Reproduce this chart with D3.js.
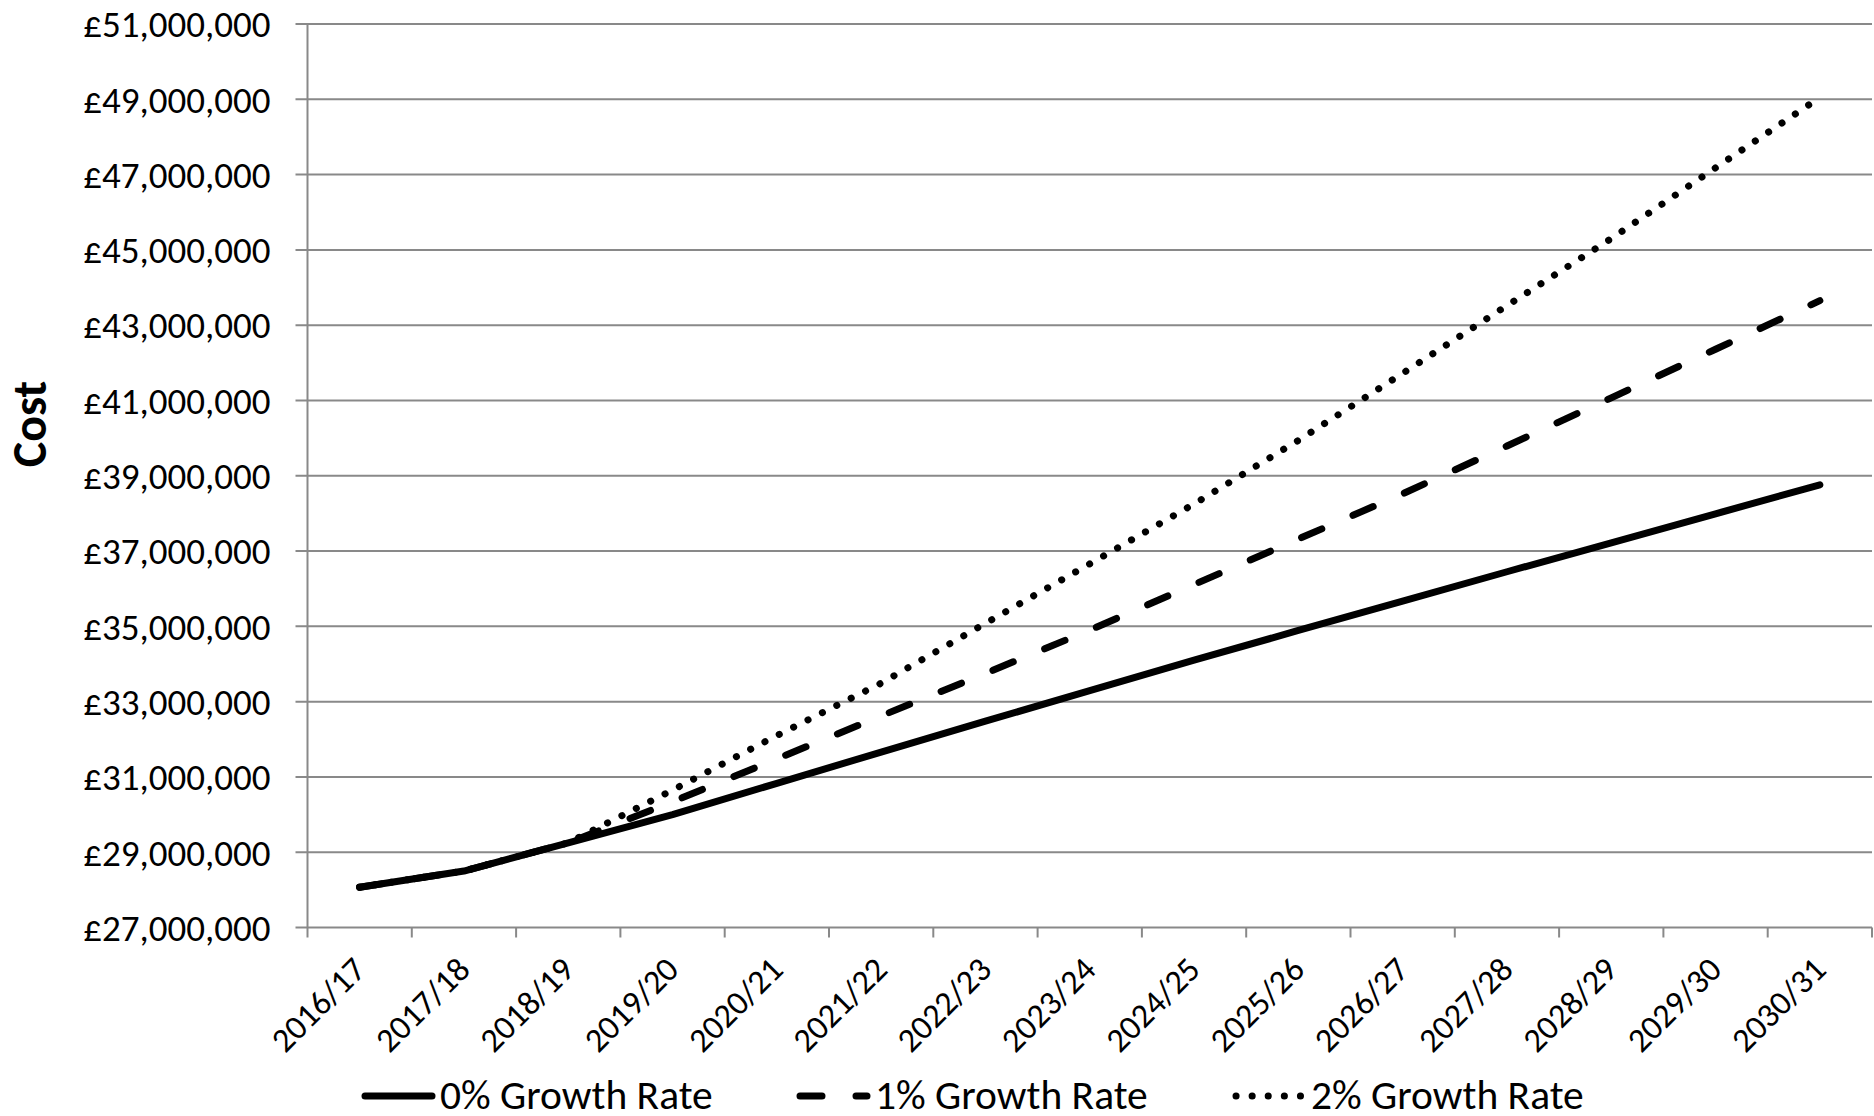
<!DOCTYPE html>
<html>
<head>
<meta charset="utf-8">
<script src="https://cdnjs.cloudflare.com/ajax/libs/d3/7.8.5/d3.min.js"></script>
<style>
  html, body { margin: 0; padding: 0; background: #fff; }
  svg { display: block; }
  text { font-family: Carlito, Calibri, Lato, sans-serif; fill: #000; }
</style>
</head>
<body>
<svg id="chart" width="1874" height="1116"></svg>
<script>
var years = ['2016/17', '2017/18', '2018/19', '2019/20', '2020/21', '2021/22', '2022/23', '2023/24',
             '2024/25', '2025/26', '2026/27', '2027/28', '2028/29', '2029/30', '2030/31'];

// cost in pounds
var growth0 = [28070000, 28500000, 29250000, 30000000, 30830000, 31660000, 32480000, 33290000,
               34100000, 34890000, 35670000, 36450000, 37220000, 37990000, 38760000];
var growth1 = [28070000, 28500000, 29250000, 30340000, 31480000, 32620000, 33750000, 34900000,
               36110000, 37320000, 38520000, 39790000, 41070000, 42360000, 43650000];
var growth2 = [28070000, 28500000, 29250000, 30650000, 32100000, 33490000, 35080000, 36660000,
               38250000, 39940000, 41720000, 43520000, 45300000, 47180000, 49050000];

var seriesNames = ['0% Growth Rate', '1% Growth Rate', '2% Growth Rate'];
var yTicks = d3.range(27000000, 51000001, 2000000);

var plotLeft = 307.5, plotRight = 1872, plotTop = 24, plotBottom = 927.5;
var gridColor = '#898989';

var svg = d3.select('#chart');

var x = d3.scaleBand().domain(years).range([plotLeft, plotRight]);
var y = d3.scaleLinear().domain([27000000, 51000000]).range([plotBottom, plotTop]);

var fmt = function(v) { return '\u00a3' + d3.format(',')(v); };

// gridlines
svg.append('g').selectAll('line')
    .data(yTicks)
    .enter().append('line')
    .attr('x1', plotLeft - 12)
    .attr('x2', plotRight)
    .attr('y1', function(d) { return y(d); })
    .attr('y2', function(d) { return y(d); })
    .attr('stroke', gridColor)
    .attr('stroke-width', 2);

// y axis line
svg.append('line')
    .attr('x1', plotLeft).attr('x2', plotLeft)
    .attr('y1', plotTop).attr('y2', plotBottom)
    .attr('stroke', gridColor).attr('stroke-width', 2);

// y tick labels
svg.append('g').selectAll('text')
    .data(yTicks)
    .enter().append('text')
    .attr('x', plotLeft - 37)
    .attr('y', function(d) { return y(d); })
    .attr('dy', '0.36em')
    .attr('text-anchor', 'end')
    .style('font-size', '37px')
    .text(fmt);

// x ticks on band boundaries
var bounds = years.map(function(d) { return x(d); }).concat([plotRight]);
svg.append('g').selectAll('line')
    .data(bounds)
    .enter().append('line')
    .attr('x1', function(d) { return d; })
    .attr('x2', function(d) { return d; })
    .attr('y1', plotBottom)
    .attr('y2', plotBottom + 10)
    .attr('stroke', gridColor)
    .attr('stroke-width', 2);

// x labels
svg.append('g').selectAll('text')
    .data(years)
    .enter().append('text')
    .attr('transform', function(d) {
        var cx = x(d) + x.bandwidth() / 2;
        return 'translate(' + (cx + 8) + ',' + (plotBottom + 44) + ') rotate(-45)';
    })
    .attr('text-anchor', 'end')
    .style('font-size', '34px')
    .text(function(d) { return d; });

// y title
svg.append('text')
    .attr('transform', 'translate(46,424) rotate(-90)')
    .attr('text-anchor', 'middle')
    .style('font-size', '48px')
    .style('font-weight', 'bold')
    .text('Cost');

var styles = [
    { dash: null },
    { dash: '22,34' },
    { dash: '0.1,16' }
];

var line = d3.line()
    .x(function(d, i) { return x(years[i]) + x.bandwidth() / 2; })
    .y(function(d) { return y(d); });

var allSeries = [growth0, growth1, growth2];

svg.append('g').selectAll('path')
    .data(allSeries)
    .enter().append('path')
    .attr('d', line)
    .attr('fill', 'none')
    .attr('stroke', '#000')
    .attr('stroke-width', 7)
    .attr('stroke-linecap', 'round')
    .attr('stroke-linejoin', 'round')
    .attr('stroke-dasharray', function(d, i) { return styles[i].dash; });

// legend
var legendX = [440, 875, 1311];
var legendY = 1094;
var leg = svg.append('g').selectAll('g')
    .data(seriesNames)
    .enter().append('g');

leg.append('line')
    .attr('x1', function(d, i) { return legendX[i] - 75; })
    .attr('x2', function(d, i) { return legendX[i] - 8; })
    .attr('y1', legendY + 2)
    .attr('y2', legendY + 2)
    .attr('stroke', '#000')
    .attr('stroke-width', 7)
    .attr('stroke-linecap', 'round')
    .attr('stroke-dasharray', function(d, i) { return styles[i].dash; });

leg.append('text')
    .attr('x', function(d, i) { return legendX[i]; })
    .attr('y', legendY)
    .attr('dy', '0.36em')
    .style('font-size', '41.5px')
    .text(function(d) { return d; });
</script>
</body>
</html>
